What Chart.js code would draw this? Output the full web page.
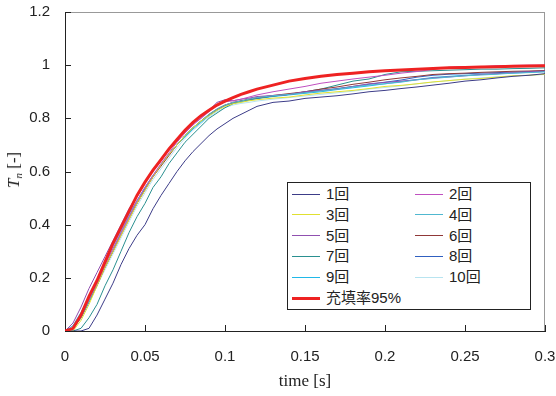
<!DOCTYPE html>
<html>
<head>
<meta charset="utf-8">
<script src="https://cdn.jsdelivr.net/npm/chart.js"></script>
<style>
  body { margin: 0; background: #fff; }
  #wrap { position: relative; width: 556px; height: 396px; }
  #yTitle {
    position: absolute; left: 14px; top: 170px;
    transform: translate(-50%, -50%) rotate(-90deg);
    font-family: "Liberation Serif", serif; font-size: 17px; color: #222; white-space: nowrap;
  }
  #yTitle sub { font-size: 11px; vertical-align: -3px; }
  #legend {
    position: absolute; left: 287px; top: 182px; width: 242px; height: 126px;
    border: 1px solid #222; background: #fff;
  }
  .item { position: absolute; height: 20px; }
  .item span.line { position: absolute; left: 0; width: 28px; }
  .item span.txt {
    position: absolute; left: 34px; top: 0; line-height: 20px; white-space: nowrap;
    font-family: "Liberation Sans", "Noto Sans CJK JP", sans-serif; font-size: 15px; color: #222;
  }
</style>
</head>
<body>
<div id="wrap">
  <canvas id="chart" width="556" height="396"></canvas>
  <div id="yTitle"><i>T</i><sub><i>n</i></sub> [-]</div>
  <div id="legend"></div>
</div>
<script>
const times = [0,0.005,0.01,0.015,0.02,0.025,0.03,0.035,0.04,0.045,0.05,0.055,0.06,0.065,0.07,0.075,0.08,0.085,0.09,0.095,0.1,0.105,0.11,0.115,0.12,
  0.13,0.14,0.15,0.16,0.17,0.18,0.19,0.2,0.21,0.22,0.23,0.24,0.25,0.26,0.27,0.28,0.29,0.3];

const run1 = [0,0,0,0.01,0.06,0.12,0.18,0.25,0.31,0.36,0.4,0.46,0.51,0.555,0.6,0.64,0.675,0.705,0.735,0.76,0.78,0.8,0.815,0.83,0.845,
  0.86,0.865,0.875,0.88,0.885,0.892,0.9,0.905,0.912,0.918,0.925,0.932,0.94,0.945,0.952,0.958,0.962,0.968];
const run2 = [0,0.01,0.06,0.12,0.18,0.25,0.31,0.37,0.43,0.49,0.54,0.585,0.63,0.67,0.71,0.745,0.775,0.8,0.825,0.85,0.862,0.866,0.872,0.88,0.888,
  0.9,0.91,0.92,0.932,0.94,0.948,0.955,0.962,0.97,0.976,0.984,0.992,0.995,0.994,0.998,0.999,1.0,1.0];
const run3 = [0,0,0.04,0.1,0.17,0.24,0.3,0.36,0.42,0.48,0.53,0.58,0.625,0.665,0.7,0.735,0.765,0.79,0.81,0.83,0.845,0.855,0.86,0.866,0.87,
  0.876,0.88,0.888,0.895,0.9,0.905,0.912,0.92,0.924,0.93,0.937,0.942,0.947,0.95,0.955,0.96,0.962,0.966];
const run4 = [0,0.01,0.05,0.11,0.18,0.25,0.31,0.37,0.43,0.49,0.54,0.585,0.625,0.665,0.7,0.735,0.765,0.79,0.815,0.835,0.85,0.86,0.865,0.872,0.878,
  0.885,0.89,0.896,0.903,0.91,0.918,0.925,0.93,0.936,0.945,0.95,0.955,0.96,0.963,0.966,0.97,0.972,0.975];
const run5 = [0,0.03,0.09,0.16,0.22,0.28,0.34,0.4,0.46,0.51,0.56,0.6,0.64,0.68,0.715,0.75,0.78,0.8,0.83,0.86,0.87,0.866,0.872,0.876,0.882,
  0.886,0.89,0.9,0.905,0.91,0.92,0.93,0.935,0.94,0.945,0.952,0.956,0.96,0.965,0.968,0.972,0.975,0.978];
const run6 = [0,0.01,0.05,0.11,0.17,0.24,0.3,0.36,0.42,0.48,0.53,0.58,0.62,0.66,0.7,0.735,0.765,0.79,0.815,0.835,0.85,0.86,0.866,0.872,0.878,
  0.886,0.893,0.9,0.91,0.918,0.928,0.936,0.945,0.952,0.958,0.965,0.968,0.97,0.973,0.975,0.977,0.978,0.98];
const run7 = [0,0,0.01,0.05,0.1,0.17,0.23,0.3,0.37,0.43,0.48,0.54,0.58,0.63,0.67,0.71,0.74,0.77,0.8,0.82,0.84,0.855,0.865,0.87,0.876,
  0.884,0.89,0.9,0.91,0.925,0.94,0.948,0.965,0.975,0.977,0.979,0.981,0.983,0.985,0.985,0.987,0.988,0.99];
const run8 = [0,0.01,0.05,0.11,0.18,0.24,0.3,0.37,0.43,0.48,0.535,0.58,0.625,0.665,0.7,0.735,0.765,0.79,0.812,0.832,0.848,0.858,0.865,0.87,0.875,
  0.884,0.89,0.898,0.905,0.912,0.92,0.928,0.936,0.944,0.955,0.962,0.966,0.968,0.97,0.972,0.974,0.976,0.978];
const run9 = [0,0.02,0.07,0.13,0.19,0.26,0.32,0.38,0.44,0.49,0.54,0.585,0.625,0.665,0.7,0.73,0.76,0.785,0.81,0.83,0.848,0.856,0.862,0.868,0.874,
  0.882,0.888,0.894,0.9,0.908,0.915,0.922,0.93,0.938,0.946,0.954,0.958,0.962,0.965,0.968,0.97,0.973,0.976];
const run10 = [0,0.01,0.05,0.11,0.17,0.23,0.29,0.35,0.41,0.47,0.52,0.57,0.61,0.65,0.69,0.725,0.755,0.78,0.805,0.825,0.84,0.85,0.856,0.86,0.865,
  0.872,0.878,0.884,0.89,0.896,0.902,0.91,0.916,0.922,0.93,0.936,0.942,0.948,0.952,0.956,0.96,0.962,0.965];
const fill95 = [0,0.01,0.06,0.13,0.19,0.26,0.33,0.39,0.45,0.51,0.56,0.605,0.645,0.685,0.72,0.755,0.785,0.81,0.83,0.85,0.865,0.878,0.89,0.9,0.91,
  0.925,0.94,0.95,0.958,0.965,0.97,0.975,0.979,0.982,0.985,0.987,0.99,0.991,0.993,0.994,0.996,0.997,0.998];

const runLabels = ['1回','2回','3回','4回','5回','6回','7回','8回','9回','10回'];
const runColors = ['#3c3c88','#c050c0','#e0e030','#50b8d0','#9050b0','#903838','#2a9090','#3060c0','#20b8e8','#b8e4f0'];
const runs = [run1, run2, run3, run4, run5, run6, run7, run8, run9, run10];
const fillLabel = '充填率95%';

const xTickLabels = ['0','0.05','0.1','0.15','0.2','0.25','0.3'];
const yTickLabels = ['0','0.2','0.4','0.6','0.8','1','1.2'];

function toPoints(values) {
  return values.map((v, i) => ({ x: times[i], y: v }));
}

const datasets = runs.map((r, i) => ({
  label: runLabels[i],
  data: toPoints(r),
  borderColor: runColors[i],
  borderWidth: 1,
  order: 1
}));
datasets.push({
  label: fillLabel,
  data: toPoints(fill95),
  borderColor: '#ee2222',
  borderWidth: 3,
  order: 0
});

// inward ticks + grey top/right frame
const frame = {
  id: 'frame',
  beforeDatasetsDraw(chart) {
    const ctx = chart.ctx;
    const a = chart.chartArea;
    const xs = chart.scales.x, ys = chart.scales.y;
    ctx.save();
    ctx.lineWidth = 1;
    ctx.strokeStyle = '#999';
    ctx.beginPath();
    ctx.moveTo(a.left, a.top + 0.5); ctx.lineTo(a.right, a.top + 0.5);
    ctx.moveTo(a.right - 0.5, a.top); ctx.lineTo(a.right - 0.5, a.bottom);
    ctx.stroke();
    ctx.strokeStyle = '#222';
    ctx.beginPath();
    xs.ticks.forEach(t => {
      const px = Math.round(xs.getPixelForValue(t.value)) + 0.5;
      ctx.moveTo(px, a.bottom); ctx.lineTo(px, a.bottom - 6);
    });
    ys.ticks.forEach(t => {
      const py = Math.round(ys.getPixelForValue(t.value)) + 0.5;
      ctx.moveTo(a.left, py); ctx.lineTo(a.left + 6, py);
    });
    ctx.stroke();
    ctx.restore();
  }
};

const chart = new Chart(document.getElementById('chart'), {
  type: 'line',
  data: { datasets: datasets },
  options: {
    responsive: false,
    animation: false,
    layout: { padding: { top: 12, right: 11, left: 0, bottom: 0 } },
    elements: { point: { radius: 0 }, line: { tension: 0 } },
    plugins: { legend: { display: false }, tooltip: { enabled: false } },
    scales: {
      x: {
        type: 'linear', min: 0, max: 0.3,
        afterFit: (s) => { s.height = 65; s.paddingLeft = 0; s.paddingRight = 0; },
        grid: { drawOnChartArea: false, drawTicks: false },
        border: { color: '#222', width: 1 },
        ticks: {
          stepSize: 0.05, padding: 17, color: '#222', maxRotation: 0,
          font: { family: 'Liberation Sans', size: 15 },
          callback: (v, i) => xTickLabels[i]
        },
        title: {
          display: true, text: 'time [s]', color: '#222',
          font: { family: 'Liberation Serif', size: 17 },
          padding: { top: 0, bottom: 4 }
        }
      },
      y: {
        min: 0, max: 1.2,
        afterFit: (s) => { s.width = 65; s.paddingTop = 0; s.paddingBottom = 0; },
        grid: { drawOnChartArea: false, drawTicks: false },
        border: { color: '#222', width: 1 },
        ticks: {
          stepSize: 0.2, padding: 15, color: '#222',
          font: { family: 'Liberation Sans', size: 15 },
          callback: (v, i) => yTickLabels[i]
        }
      }
    }
  },
  plugins: [frame]
});

// legend built from the chart's datasets, two columns
const legend = document.getElementById('legend');
chart.data.datasets.forEach((ds, i) => {
  const col = i % 2, row = Math.floor(i / 2);
  const item = document.createElement('div');
  item.className = 'item';
  item.style.left = (4 + col * 123) + 'px';
  item.style.top = (1 + row * 20.8) + 'px';
  const line = document.createElement('span');
  line.className = 'line';
  line.style.background = ds.borderColor;
  line.style.height = ds.borderWidth + 'px';
  line.style.top = (10 - ds.borderWidth / 2) + 'px';
  const txt = document.createElement('span');
  txt.className = 'txt';
  txt.textContent = ds.label;
  item.appendChild(line);
  item.appendChild(txt);
  legend.appendChild(item);
});
</script>
</body>
</html>
